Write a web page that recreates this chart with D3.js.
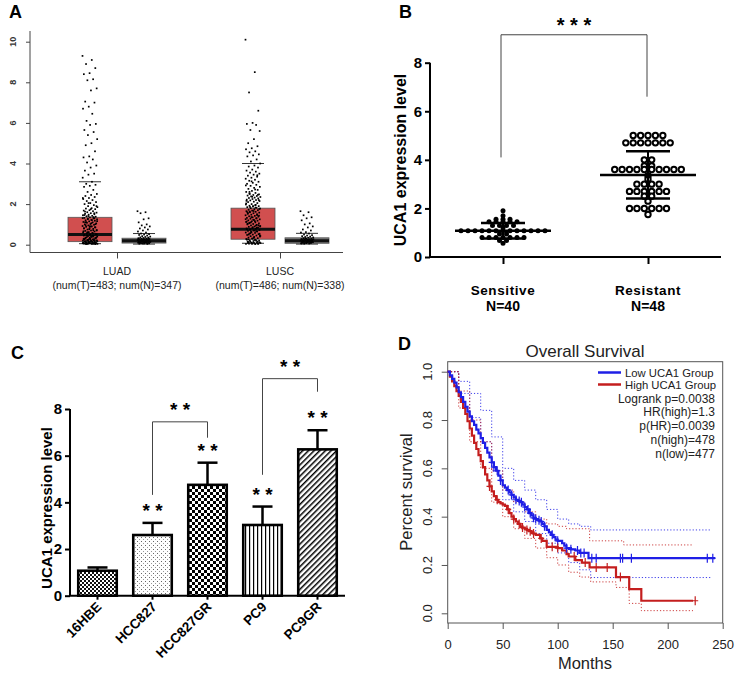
<!DOCTYPE html>
<html><head><meta charset="utf-8">
<script src="https://cdn.jsdelivr.net/npm/d3@7"></script>
<style>
body{margin:0;background:#fff}
svg{display:block}
text{font-family:"Liberation Sans",Arial,Helvetica,sans-serif}
</style>
</head><body>
<svg id="c" width="739" height="678"></svg>
<script>
// ---------------- DATA ----------------
// Panel A (GEPIA box plots)
const groupsA = ["LUAD", "LUSC"];
const groupSubA = ["(num(T)=483; num(N)=347)", "(num(T)=486; num(N)=338)"];
const ticksA = [0, 2, 4, 6, 8, 10];
const tumorQ1 = [0.15, 0.27];
const tumorMed = [0.5, 0.76];
const tumorQ3 = [1.35, 1.8];
const tumorHi = [3.1, 4.0];
const tumorLo = [0.05, 0.07];
const normalQ1 = [0.08, 0.07];
const normalMed = [0.2, 0.2];
const normalQ3 = [0.32, 0.34];
const normalHi = [0.55, 0.56];
const normalLo = [0.03, 0.03];
const luadT = [9.3,9.1,8.9,8.7,8.45,8.4,8.15,8.1,7.7,7.6,7.05,7.0,6.8,6.7,6.45,6.1,5.95,5.9,5.65,5.55,5.4,5.2,5.0,4.9,4.6,4.35,4.3,4.2,4.05,3.9,3.8,3.65,3.5,3.45,3.3,3.1,3.0,2.95,2.9,2.85,2.7,2.6,2.5,2.45,2.4,2.35,2.3,2.25,2.2,2.15,2.1,2.05,2.0,1.95,1.9,1.85,1.8,1.78,1.75,1.7,1.68,1.65,1.6,1.58,1.55,1.52,1.5,1.48,1.45,1.42,1.4,1.38,1.35,1.32,1.3,1.28,1.25,1.22,1.2,1.18,1.15,1.12,1.1,1.08,1.05,1.02,1.0,0.98,0.95,0.92,0.9,0.88,0.85,0.82,0.8,0.78,0.75,0.72,0.7,0.68,0.65,0.62,0.6,0.58,0.55,0.52,0.5,0.48,0.45,0.42,0.4,0.38,0.35,0.32,0.3,0.28,0.25,0.22,0.2,0.18,0.15,0.12,0.1,0.08,0.06,0.05,0.04,0.35,0.3,0.27,0.24,0.21,0.19,0.17,0.15,0.13,0.11,0.1,0.09,0.08,0.07,0.06,0.05,0.05,0.04,0.04,0.03,0.03,0.5,0.45,0.4,0.6,0.7,0.9,1.1,1.3,0.25,0.2,0.15,0.12,0.1,0.08,
  1.46,1.36,1.26,1.16,1.06,0.96,0.86,0.76,0.66,0.56,0.46,0.36,0.26,0.16,0.09,1.41,1.31,1.21,1.11,1.01,0.91,0.81,0.71,0.61,0.51,0.41,0.31,0.23,0.14,0.07,0.44,0.37,0.33,0.29,0.26,0.22,0.19,0.16,0.14,0.11,0.09,0.07,0.06,0.05,0.04,1.9,1.75,1.63,1.55,2.05,2.3];
const luadN = [1.65,1.6,1.55,1.3,1.25,1.1,1.0,0.95,0.9,0.85,0.8,0.75,0.7,0.65,0.6,0.55,0.52,0.5,0.48,0.45,0.42,0.4,0.38,0.36,0.35,0.33,0.32,0.3,0.29,0.28,0.27,0.26,0.25,0.24,0.23,0.22,0.21,0.2,0.19,0.18,0.17,0.16,0.15,0.14,0.13,0.12,0.11,0.1,0.09,0.08,0.07,0.06,0.05,0.04,0.2,0.15,0.12,0.1,0.3,0.25,0.28,0.22,0.18,0.14,0.11,0.09,0.07,0.06];
const luscT = [10.1,8.5,7.5,6.6,6.0,5.95,5.9,5.65,5.6,5.2,5.0,4.85,4.75,4.7,4.6,4.55,4.45,4.4,4.35,4.2,4.1,4.0,3.9,3.85,3.8,3.7,3.65,3.6,3.55,3.5,3.45,3.4,3.35,3.3,3.25,3.2,3.15,3.1,3.05,3.0,2.95,2.9,2.85,2.8,2.75,2.7,2.65,2.6,2.55,2.5,2.48,2.45,2.42,2.4,2.38,2.35,2.32,2.3,2.28,2.25,2.22,2.2,2.18,2.15,2.12,2.1,2.05,2.0,1.98,1.95,1.92,1.9,1.88,1.85,1.82,1.8,1.78,1.75,1.72,1.7,1.68,1.65,1.62,1.6,1.58,1.55,1.52,1.5,1.48,1.45,1.42,1.4,1.38,1.35,1.32,1.3,1.28,1.25,1.22,1.2,1.18,1.15,1.12,1.1,1.08,1.05,1.02,1.0,0.98,0.95,0.92,0.9,0.88,0.85,0.82,0.8,0.78,0.75,0.72,0.7,0.68,0.65,0.62,0.6,0.58,0.55,0.52,0.5,0.48,0.45,0.42,0.4,0.38,0.35,0.32,0.3,0.28,0.25,0.22,0.2,0.18,0.15,0.12,0.1,0.08,0.06,0.05,0.04,0.3,0.25,0.2,0.15,0.12,0.1,0.08,0.06,0.05,0.04,0.03,2.6,2.2,1.9,1.6,1.3,1.1,0.9,0.7,0.5,
  2.46,2.36,2.16,1.96,1.86,1.76,1.66,1.56,1.46,1.36,1.26,1.16,1.06,0.96,0.86,0.76,0.66,0.56,0.46,0.36,0.26,0.16,0.09,2.03,1.83,1.63,1.43,1.23,1.03,0.83,0.63,0.43,0.23,0.13,0.07,0.05,1.14,0.94,0.74,0.54,0.34,0.11,3.42,3.12,2.92,2.72,2.52];
const luscN = [1.65,1.6,1.45,1.35,1.3,1.2,1.05,1.0,0.9,0.85,0.75,0.7,0.62,0.6,0.55,0.5,0.47,0.45,0.42,0.4,0.38,0.36,0.34,0.32,0.3,0.29,0.28,0.27,0.26,0.25,0.24,0.23,0.22,0.21,0.2,0.19,0.18,0.17,0.16,0.15,0.14,0.13,0.12,0.11,0.1,0.09,0.08,0.07,0.06,0.05,0.2,0.15,0.12,0.1,0.3,0.27,0.22,0.17,0.13,0.09,0.06];

// Panel B (scatter)
const groupsB = ["Sensitive", "Resistant"];
const nLabelsB = ["N=40", "N=48"];
const ticksB = [0, 2, 4, 6, 8];
const sensitive = [1.9,1.7,1.55,1.55,1.55,1.45,1.45,1.45,1.45,1.45,1.3,1.3,1.3,1.3,1.2,
  1.08,1.08,1.08,1.08,1.08,1.08,1.08,1.08,1.08,1.08,1.08,1.08,1.08,
  0.95,0.95,0.8,0.8,0.8,0.8,0.8,0.8,0.8,0.68,0.68,0.57];
const resistant = [5.0,5.0,5.0,5.0,5.0,4.7,4.7,4.7,4.7,4.7,4.7,4.7,4.0,4.0,3.75,3.75,
  3.6,3.6,3.6,3.6,3.6,3.6,3.6,3.6,3.6,3.6,3.35,3.2,3.0,3.0,3.0,3.0,
  2.7,2.7,2.7,2.7,2.7,2.7,2.5,2.5,2.3,2.0,2.0,2.0,2.0,2.0,2.0,1.75];
const meanB = [1.08, 3.38];
const sdB = [0.32, 0.97];
const bracketB = {level: 9.15, leftEnd: 4.1, rightEnd: 6.6, label: "* * *"};

// Panel C (bars)
const cells = ["16HBE", "HCC827", "HCC827GR", "PC9", "PC9GR"];
const barMeans = [1.07, 2.6, 4.75, 3.03, 6.27];
const barErrs = [0.14, 0.52, 0.95, 0.79, 0.82];
const barStars = ["", "* *", "* *", "* *", "* *"];
const patterns = ["fineCheck", "dots", "bigCheck", "vStripe", "diag"];
const ticksC = [0, 2, 4, 6, 8];
const bracketsC = [
  {a: "HCC827", b: "HCC827GR", level: 7.45, leftEnd: 4.32, rightEnd: 6.77, label: "* *"},
  {a: "PC9", b: "PC9GR", level: 9.3, leftEnd: 5.18, rightEnd: 8.74, label: "* *"}
];

// Panel D (Kaplan-Meier)
const ticksDx = [0, 50, 100, 150, 200, 250];
const ticksDy = [0.0, 0.2, 0.4, 0.6, 0.8, 1.0];
const lowT = [0,2,4,6,8,10,12,14,16,18,20,22,24,26,28,30,32,34,36,38,40,42,44,46,48,50,52,54,56,58,60,62,64,66,68,70,72,74,76,78,80,82,84,86,88,90,92,94,96,98,100,104,106,108,112,116,120,124,128,243];
const lowS = [1,.985,.97,.955,.935,.915,.895,.875,.855,.835,.815,.795,.78,.76,.745,.725,.705,.685,.665,.645,.625,.605,.59,.57,.55,.53,.52,.51,.50,.49,.48,.47,.465,.46,.45,.44,.43,.415,.405,.395,.39,.385,.38,.37,.36,.345,.335,.325,.315,.305,.30,.29,.28,.27,.265,.26,.25,.25,.228,.228];
const highT = [0,2,4,6,8,10,12,14,16,18,20,22,24,26,28,30,32,34,36,38,40,42,44,46,48,50,52,54,56,58,60,62,64,66,68,70,72,74,76,78,80,84,86,90,100,104,108,110,116,122,129,153,165,176,223];
const highS = [1,.98,.96,.94,.92,.90,.875,.85,.825,.795,.765,.735,.705,.68,.655,.63,.605,.575,.55,.525,.505,.485,.47,.46,.455,.45,.445,.43,.415,.40,.39,.38,.37,.36,.355,.35,.345,.34,.335,.33,.325,.31,.30,.275,.27,.26,.245,.235,.22,.21,.19,.15,.10,.052,.052];
const lowUpT = [0,10,20,30,40,50,60,70,80,90,100,110,120,130,240];
const lowUpS = [1,.96,.91,.84,.73,.60,.55,.51,.47,.43,.39,.37,.36,.345,.345];
const lowLoT = [0,10,20,30,40,50,60,70,80,90,100,110,120,130,240];
const lowLoS = [1,.91,.81,.71,.59,.47,.42,.38,.33,.29,.25,.21,.18,.148,.148];
const highUpT = [0,10,20,30,40,50,60,70,80,90,100,108,129,160,223];
const highUpS = [1,.92,.80,.71,.59,.51,.46,.42,.39,.37,.36,.35,.30,.283,.283];
const highLoT = [0,10,20,30,40,50,60,70,80,90,100,110,120,130,153,165,176,223];
const highLoS = [1,.85,.71,.60,.46,.40,.35,.31,.27,.23,.20,.17,.15,.13,.107,.041,.011,.011];
const lowCensor = [40,42,45,48,55,58,62,65,67,70,73,75,78,80,83,85,88,95,100,108,112,118,121,124,131,135,157,159,167,236,241];
const highCensor = [38,45,55,60,65,68,72,75,78,85,95,100,115,125,135,145,157,225];
const legendD = ["Low UCA1 Group", "High UCA1 Group"];
const statsD = ["Logrank p=0.0038", "HR(high)=1.3", "p(HR)=0.0039", "n(high)=478", "n(low)=477"];

// ---------------- DRAW ----------------
const svg = d3.select("#c");
const FONT = '"Liberation Sans",Arial,sans-serif';
function panelLabel(t, x, y) {
  svg.append("text").attr("x", x).attr("y", y).text(t)
    .attr("font-size", 18).attr("font-weight", "bold").attr("fill", "#000");
}
panelLabel("A", 9, 18);
panelLabel("B", 399, 18);
panelLabel("C", 11, 359);
panelLabel("D", 398, 350);

// ===== Panel A =====
(function(){
  const g = svg.append("g");
  const y = d3.scaleLinear().domain([0, 10]).range([244.7, 41.7]);
  const x = d3.scalePoint().domain(groupsA).range([117, 280]);
  const off = 27, bw = 44, capW = 22;
  g.append("line").attr("x1", 30).attr("x2", 30).attr("y1", 31).attr("y2", 252.5).attr("stroke", "#444");
  g.append("line").attr("x1", 30).attr("x2", 343).attr("y1", 252.5).attr("y2", 252.5).attr("stroke", "#444");
  const ya = g.append("g").attr("transform", "translate(30,0)")
    .call(d3.axisLeft(y).tickValues(ticksA).tickSize(4).tickFormat(""));
  ya.select(".domain").remove();
  ya.selectAll("line").attr("stroke", "#444");
  g.selectAll(".yl").data(ticksA).join("text")
    .attr("transform", d => `translate(16,${y(d)}) rotate(-90)`)
    .attr("text-anchor", "middle").attr("font-size", 9).attr("font-weight", "bold").attr("fill", "#333")
    .text(d => d);
  const xa = g.append("g").attr("transform", "translate(0,252.5)")
    .call(d3.axisBottom(x).tickSize(6).tickFormat(""));
  xa.select(".domain").remove();
  xa.selectAll("line").attr("stroke", "#444");
  groupsA.forEach((gn, i) => {
    g.append("text").attr("x", x(gn)).attr("y", 275).attr("text-anchor", "middle")
      .attr("font-size", 10.5).attr("fill", "#222").text(gn);
    g.append("text").attr("x", x(gn)).attr("y", 289).attr("text-anchor", "middle")
      .attr("font-size", 10.5).attr("fill", "#222").text(groupSubA[i]);
  });
  const boxes = [
    {c: x("LUAD") - off, q1: tumorQ1[0], med: tumorMed[0], q3: tumorQ3[0], hi: tumorHi[0], lo: tumorLo[0], fill: "#d14f4f", pts: luadT, jw: 7.5},
    {c: x("LUAD") + off, q1: normalQ1[0], med: normalMed[0], q3: normalQ3[0], hi: normalHi[0], lo: normalLo[0], fill: "#777", pts: luadN, jw: 6.5},
    {c: x("LUSC") - off, q1: tumorQ1[1], med: tumorMed[1], q3: tumorQ3[1], hi: tumorHi[1], lo: tumorLo[1], fill: "#d14f4f", pts: luscT, jw: 7.5},
    {c: x("LUSC") + off, q1: normalQ1[1], med: normalMed[1], q3: normalQ3[1], hi: normalHi[1], lo: normalLo[1], fill: "#777", pts: luscN, jw: 6.5}
  ];
  boxes.forEach(b => {
    g.append("rect").attr("x", b.c - bw/2).attr("y", y(b.q3)).attr("width", bw)
      .attr("height", y(b.q1) - y(b.q3)).attr("fill", b.fill).attr("stroke", "#555").attr("stroke-width", 0.8);
    g.append("line").attr("x1", b.c - bw/2).attr("x2", b.c + bw/2).attr("y1", y(b.med)).attr("y2", y(b.med))
      .attr("stroke", "#111").attr("stroke-width", 3);
    [b.hi, b.lo].forEach(v => g.append("line").attr("x1", b.c - capW/2).attr("x2", b.c + capW/2)
      .attr("y1", y(v)).attr("y2", y(v)).attr("stroke", "#333").attr("stroke-width", 1));
    // deterministic horizontal spread (layout only)
    g.selectAll(null).data(b.pts).join("rect")
      .attr("x", (d, i) => b.c + ((i * 0.6180339887) % 1 - 0.5) * 2 * b.jw - 0.85)
      .attr("y", d => y(d) - 0.85).attr("width", 1.7).attr("height", 1.7).attr("fill", "#000");
  });
})();

// ===== Panel B =====
(function(){
  const g = svg.append("g");
  const y = d3.scaleLinear().domain([0, 8]).range([257, 62.7]);
  const x = d3.scalePoint().domain(groupsB).range([503, 648]);
  const ya = g.append("g").attr("transform", "translate(430,0)")
    .call(d3.axisLeft(y).tickValues(ticksB).tickSize(5).tickPadding(3));
  ya.select(".domain").attr("stroke-width", 2).attr("d", `M0,${y(8)}V${y(0)}`);
  ya.selectAll("line").attr("stroke-width", 2);
  ya.selectAll("text").attr("font-size", 15).attr("font-weight", "bold").attr("font-family", FONT).attr("fill", "#000");
  const xa = g.append("g").attr("transform", `translate(0,${y(0)})`)
    .call(d3.axisBottom(x).tickSize(7).tickFormat(""));
  xa.select(".domain").attr("stroke-width", 2).attr("d", "M429,0H721");
  xa.selectAll("line").attr("stroke-width", 2);
  groupsB.forEach((gn, i) => {
    g.append("text").attr("x", x(gn)).attr("y", 295).attr("text-anchor", "middle")
      .attr("font-size", 13.5).attr("font-weight", "bold").attr("letter-spacing", 0.6).text(gn);
    g.append("text").attr("x", x(gn)).attr("y", 311).attr("text-anchor", "middle")
      .attr("font-size", 14).attr("font-weight", "bold").text(nLabelsB[i]);
  });
  g.append("text").attr("transform", "translate(406,160) rotate(-90)").attr("text-anchor", "middle")
    .attr("font-size", 16).attr("font-weight", "bold").text("UCA1 expression level");
  function swarm(vals, cx, sp) {
    const rows = d3.group(vals, v => v);
    const out = [];
    rows.forEach((arr) => arr.forEach((d, j) => out.push({v: d, x: cx + (j - (arr.length - 1) / 2) * sp})));
    return out;
  }
  g.selectAll(".s").data(swarm(sensitive, x("Sensitive"), 7)).join("circle")
    .attr("cx", d => d.x).attr("cy", d => y(d.v)).attr("r", 2.5).attr("fill", "#000");
  g.selectAll(".r").data(swarm(resistant, x("Resistant"), 7.4)).join("circle")
    .attr("cx", d => d.x).attr("cy", d => y(d.v)).attr("r", 2.7).attr("fill", "#fff")
    .attr("stroke", "#000").attr("stroke-width", 2);
  groupsB.forEach((gn, i) => {
    const cx = x(gn), m = meanB[i], s = sdB[i];
    g.append("line").attr("x1", cx - 48).attr("x2", cx + 48).attr("y1", y(m)).attr("y2", y(m)).attr("stroke", "#000").attr("stroke-width", 2.5);
    [m + s, m - s].forEach(v => g.append("line").attr("x1", cx - 22).attr("x2", cx + 22).attr("y1", y(v)).attr("y2", y(v)).attr("stroke", "#000").attr("stroke-width", 2.5));
    g.append("line").attr("x1", cx).attr("x2", cx).attr("y1", y(m + s)).attr("y2", y(m - s)).attr("stroke", "#000").attr("stroke-width", 2);
  });
  const bx1 = x("Sensitive") - 2, bx2 = x("Resistant") - 1;
  g.append("path").attr("d", `M${bx1},${y(bracketB.leftEnd)}V${y(bracketB.level)}H${bx2}V${y(bracketB.rightEnd)}`)
    .attr("fill", "none").attr("stroke", "#444").attr("stroke-width", 1);
  g.append("text").attr("x", (bx1 + bx2) / 2).attr("y", 32).attr("text-anchor", "middle")
    .attr("font-size", 20).attr("font-weight", "bold").text(bracketB.label);
})();

// ===== Panel C =====
(function(){
  const g = svg.append("g");
  const defs = svg.append("defs");
  let p = defs.append("pattern").attr("id", "fineCheck").attr("width", 4).attr("height", 4).attr("patternUnits", "userSpaceOnUse");
  p.append("rect").attr("width", 4).attr("height", 4).attr("fill", "#fff");
  p.append("rect").attr("width", 2).attr("height", 2).attr("fill", "#111");
  p.append("rect").attr("x", 2).attr("y", 2).attr("width", 2).attr("height", 2).attr("fill", "#111");
  p = defs.append("pattern").attr("id", "dots").attr("width", 4).attr("height", 4).attr("patternUnits", "userSpaceOnUse");
  p.append("rect").attr("width", 4).attr("height", 4).attr("fill", "#fff");
  p.append("rect").attr("x", 1).attr("y", 1).attr("width", 1).attr("height", 1).attr("fill", "#666");
  p.append("rect").attr("x", 3).attr("y", 3).attr("width", 1).attr("height", 1).attr("fill", "#999");
  p = defs.append("pattern").attr("id", "bigCheck").attr("width", 6).attr("height", 6).attr("patternUnits", "userSpaceOnUse");
  p.append("rect").attr("width", 6).attr("height", 6).attr("fill", "#fff");
  p.append("rect").attr("width", 3).attr("height", 3).attr("fill", "#000");
  p.append("rect").attr("x", 3).attr("y", 3).attr("width", 3).attr("height", 3).attr("fill", "#000");
  p = defs.append("pattern").attr("id", "vStripe").attr("width", 4).attr("height", 4).attr("patternUnits", "userSpaceOnUse");
  p.append("rect").attr("width", 4).attr("height", 4).attr("fill", "#fff");
  p.append("rect").attr("x", 1).attr("width", 1.2).attr("height", 4).attr("fill", "#000");
  p = defs.append("pattern").attr("id", "diag").attr("width", 4).attr("height", 4).attr("patternUnits", "userSpaceOnUse")
    .attr("patternTransform", "rotate(45)");
  p.append("rect").attr("width", 4).attr("height", 4).attr("fill", "#fff");
  p.append("rect").attr("x", 0).attr("width", 1.5).attr("height", 4).attr("fill", "#000");

  const y = d3.scaleLinear().domain([0, 8]).range([595.7, 409]);
  const x = d3.scaleBand().domain(cells).range([70, 345]).paddingInner(0.3).paddingOuter(0.15);
  const ya = g.append("g").attr("transform", "translate(70,0)")
    .call(d3.axisLeft(y).tickValues(ticksC).tickSize(5).tickPadding(3));
  ya.select(".domain").attr("stroke-width", 2).attr("d", `M0,${y(8)}V${y(0)}`);
  ya.selectAll("line").attr("stroke-width", 2);
  ya.selectAll("text").attr("font-size", 15).attr("font-weight", "bold").attr("font-family", FONT).attr("fill", "#000");
  const xa = g.append("g").attr("transform", `translate(0,${y(0)})`)
    .call(d3.axisBottom(x).tickSize(4).tickFormat(""));
  xa.select(".domain").attr("stroke-width", 2).attr("d", "M69,0H345");
  xa.selectAll("line").attr("stroke-width", 2);
  g.selectAll(".xl").data(cells).join("text")
    .attr("transform", d => `translate(${x(d) + x.bandwidth() / 2 + 5},${y(0) + 12}) rotate(-45)`)
    .attr("text-anchor", "end").attr("font-size", 13.5).attr("font-weight", "bold").text(d => d);
  g.append("text").attr("transform", "translate(52,508) rotate(-90)").attr("text-anchor", "middle")
    .attr("font-size", 15).attr("font-weight", "bold").text("UCA1 expression level");
  cells.forEach((c, i) => {
    const cx = x(c) + x.bandwidth() / 2;
    const top = y(barMeans[i] + barErrs[i]);
    g.append("line").attr("x1", cx).attr("x2", cx).attr("y1", y(barMeans[i])).attr("y2", top).attr("stroke", "#000").attr("stroke-width", 2.5);
    g.append("line").attr("x1", cx - 10).attr("x2", cx + 10).attr("y1", top).attr("y2", top).attr("stroke", "#000").attr("stroke-width", 2.5);
    g.append("rect").attr("x", x(c)).attr("y", y(barMeans[i])).attr("width", x.bandwidth())
      .attr("height", y(0) - y(barMeans[i])).attr("fill", `url(#${patterns[i]})`)
      .attr("stroke", "#000").attr("stroke-width", 2.6);
    if (barStars[i]) g.append("text").attr("x", cx).attr("y", top - 6).attr("text-anchor", "middle")
      .attr("font-size", 19).attr("font-weight", "bold").text(barStars[i]);
  });
  bracketsC.forEach(b => {
    const x1 = x(b.a) + x.bandwidth() / 2, x2 = x(b.b) + x.bandwidth() / 2;
    g.append("path").attr("d", `M${x1},${y(b.leftEnd)}V${y(b.level)}H${x2}V${y(b.rightEnd)}`)
      .attr("fill", "none").attr("stroke", "#444").attr("stroke-width", 1);
    g.append("text").attr("x", (x1 + x2) / 2).attr("y", y(b.level) - 6).attr("text-anchor", "middle")
      .attr("font-size", 19).attr("font-weight", "bold").text(b.label);
  });
})();

// ===== Panel D =====
(function(){
  const g = svg.append("g");
  const x = d3.scaleLinear().domain([0, 250]).range([447.7, 722.7]);
  const y = d3.scaleLinear().domain([0, 1]).range([613.3, 371.7]);
  g.append("rect").attr("x", 447.7).attr("y", 361.7).attr("width", 275).attr("height", 261.3)
    .attr("fill", "none").attr("stroke", "#555").attr("stroke-width", 1);
  const xa = g.append("g").attr("transform", "translate(0,623)")
    .call(d3.axisBottom(x).tickValues(ticksDx).tickSize(6).tickPadding(11));
  xa.select(".domain").remove();
  xa.selectAll("line").attr("stroke", "#555");
  xa.selectAll("text").attr("font-size", 13).attr("font-family", FONT).attr("fill", "#222");
  const ya = g.append("g").attr("transform", "translate(447.7,0)")
    .call(d3.axisLeft(y).tickValues(ticksDy).tickSize(6).tickFormat(""));
  ya.select(".domain").remove();
  ya.selectAll("line").attr("stroke", "#555");
  g.selectAll(".yl").data(ticksDy).join("text")
    .attr("transform", d => `translate(432,${y(d)}) rotate(-90)`).attr("text-anchor", "middle")
    .attr("font-size", 13).attr("fill", "#222").text(d3.format(".1f"));
  g.append("text").attr("x", 585).attr("y", 669).attr("text-anchor", "middle").attr("font-size", 16.5).attr("fill", "#222").text("Months");
  g.append("text").attr("transform", "translate(412,492) rotate(-90)").attr("text-anchor", "middle")
    .attr("font-size", 16.5).attr("fill", "#222").text("Percent survival");
  g.append("text").attr("x", 585).attr("y", 357).attr("text-anchor", "middle").attr("font-size", 17).attr("fill", "#222").text("Overall Survival");
  const line = d3.line().x(d => x(d[0])).y(d => y(d[1])).curve(d3.curveStepAfter);
  const zip = (t, s) => t.map((v, i) => [v, s[i]]);
  const BLUE = "#1f1fe6", RED = "#c41e1e";
  [[lowUpT, lowUpS, BLUE], [lowLoT, lowLoS, BLUE], [highUpT, highUpS, RED], [highLoT, highLoS, RED]].forEach(([t, s, c]) => {
    g.append("path").attr("d", line(zip(t, s))).attr("fill", "none").attr("stroke", c)
      .attr("stroke-width", 1).attr("stroke-dasharray", "1.2,2").attr("opacity", 0.85);
  });
  g.append("path").attr("d", line(zip(highT, highS))).attr("fill", "none").attr("stroke", RED).attr("stroke-width", 2.2);
  g.append("path").attr("d", line(zip(lowT, lowS))).attr("fill", "none").attr("stroke", BLUE).attr("stroke-width", 2.2);
  const survAt = (T, S, m) => S[d3.bisectRight(T, m) - 1];
  [[lowCensor, lowT, lowS, BLUE], [highCensor, highT, highS, RED]].forEach(([cs, T, S, c]) => {
    g.selectAll(null).data(cs).join("path")
      .attr("d", m => `M${x(m)},${y(survAt(T, S, m)) - 4.5}v9M${x(m) - 3},${y(survAt(T, S, m))}h6`)
      .attr("stroke", c).attr("stroke-width", 1.2).attr("fill", "none");
  });
  // legend
  [BLUE, RED].forEach((c, i) => {
    const ly = 372.5 + i * 12;
    g.append("line").attr("x1", 598).attr("x2", 621).attr("y1", ly).attr("y2", ly).attr("stroke", c).attr("stroke-width", 2.5);
    g.append("text").attr("x", 625).attr("y", ly + 4).attr("font-size", 11.3).attr("fill", "#222").text(legendD[i]);
  });
  statsD.forEach((s, i) => {
    g.append("text").attr("x", 715).attr("y", 398.3 + i * 13.8 + 4.2).attr("text-anchor", "end")
      .attr("font-size", 12).attr("fill", "#222").text(s);
  });
})();
</script>
</body></html>
